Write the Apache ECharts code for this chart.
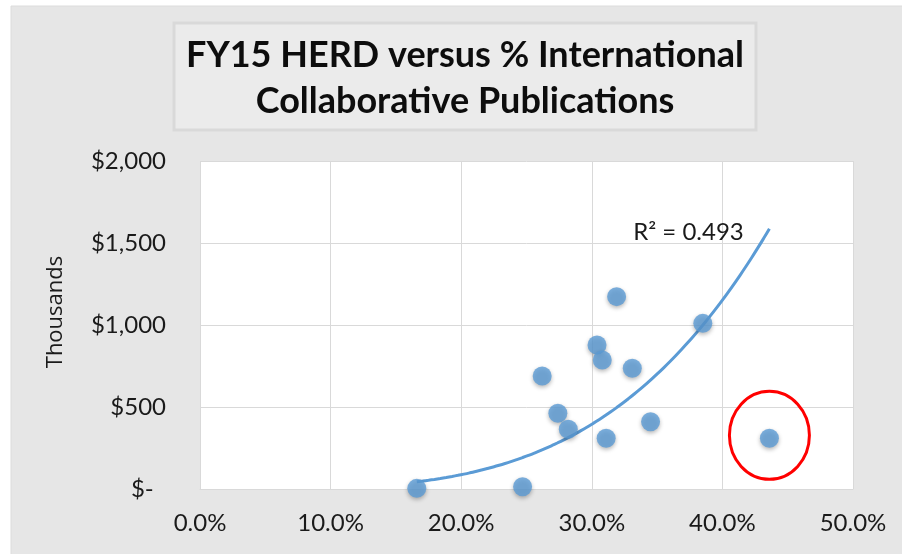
<!DOCTYPE html>
<html>
<head>
<meta charset="utf-8">
<script src="https://cdn.jsdelivr.net/npm/echarts@6/dist/echarts.min.js"></script>
<style>
html,body{margin:0;padding:0;background:#fff;}
#c{width:902px;height:554px;}
</style>
</head>
<body>
<div id="c"></div>
<script>
// International collaborative publication share (fraction) vs FY15 HERD (thousands of $)
var intlShare = [0.319, 0.385, 0.304, 0.308, 0.331, 0.262, 0.274, 0.282, 0.345, 0.311, 0.436, 0.166, 0.247];
var herdThousands = [1173, 1010, 878, 787, 736, 689, 462, 364, 410, 309, 309, 4, 14];
var xTicks = ['0.0%', '10.0%', '20.0%', '30.0%', '40.0%', '50.0%'];
var yTicks = ['$-', '$500', '$1,000', '$1,500', '$2,000'];
// Power trendline y = a * x^b (as displayed by the spreadsheet)
var trendCoef = 395 / Math.pow(0.30, 3.72);
var trendExp = 3.72;
var rSquared = '0.493';
var outlierIndex = 10;
var titleLines = ['FY15 HERD versus % International', 'Collaborative Publications'];

var FONT = 'Lato';
var points = intlShare.map(function (x, i) { return [x, herdThousands[i]]; });
var xmin = Math.min.apply(null, intlShare), xmax = Math.max.apply(null, intlShare);
var trend = [];
for (var k = 0; k <= 60; k++) {
  var xv = xmin + (xmax - xmin) * k / 60;
  trend.push([xv, trendCoef * Math.pow(xv, trendExp)]);
}

var chart = echarts.init(document.getElementById('c'), null, {renderer: 'canvas'});
var option = {
  backgroundColor: '#ffffff',
  animation: false,
  grid: {left: 200, right: 49, top: 161, bottom: 65, show: true, backgroundColor: '#ffffff', borderWidth: 0},
  xAxis: {
    type: 'value', min: 0, max: 0.5, interval: 0.1,
    axisLine: {show: true, lineStyle: {color: '#d9d9d9'}},
    axisTick: {show: false},
    splitLine: {show: true, lineStyle: {color: '#d9d9d9', width: 1}},
    axisLabel: {
      margin: 22, fontFamily: FONT, fontSize: 24, color: '#1a1a1a',
      formatter: function (v) { return xTicks[Math.round(v * 10)]; }
    }
  },
  yAxis: {
    type: 'value', min: 0, max: 2000, interval: 500,
    name: 'Thousands', nameLocation: 'middle', nameGap: 133, nameRotate: 90,
    nameTextStyle: {fontFamily: 'Open Sans', fontSize: 22, color: '#1a1a1a', padding: [0, 0, 0, 26]},
    axisLine: {show: false},
    axisTick: {show: false},
    splitLine: {show: true, lineStyle: {color: '#d9d9d9', width: 1}},
    axisLabel: {
      margin: 34, fontFamily: FONT, fontSize: 24, color: '#1a1a1a',
      formatter: function (v) { var s = yTicks[Math.round(v / 500)]; return v === 0 ? s + '  ' : s; }
    }
  },
  series: [
    {
      type: 'line', data: trend, showSymbol: false, smooth: true, z: 2,
      lineStyle: {color: '#5B9BD5', width: 3},
      markPoint: {
        symbol: 'circle', symbolSize: 0,
        data: [{coord: [0.374, 1567], value: rSquared}],
        label: {show: true, position: 'inside', formatter: 'R² = ' + rSquared,
          fontFamily: FONT, fontSize: 24, color: '#1a1a1a'}
      }
    },
    {
      type: 'scatter', data: points, symbolSize: 19, z: 3,
      itemStyle: {color: '#5B9BD5', shadowBlur: 4, shadowColor: 'rgba(0,0,0,0.35)', shadowOffsetY: 2}
    }
  ]
};
chart.setOption(option);

var op = chart.convertToPixel({gridIndex: 0}, points[outlierIndex]);
chart.setOption({
  graphic: [
    {type: 'rect', silent: true, z: -10, shape: {x: 11, y: 6, width: 902, height: 560},
      style: {fill: '#e6e6e6', stroke: '#dcdcdc', lineWidth: 1}},
    {type: 'rect', silent: true, z: -5, shape: {x: 174, y: 23, width: 582, height: 107},
      style: {fill: '#ebebeb', stroke: '#d9d9d9', lineWidth: 3}},
    {type: 'text', silent: true, z: 5, x: 465, y: 55,
      style: {text: titleLines[0], textAlign: 'center', textVerticalAlign: 'middle',
        fontFamily: FONT, fontWeight: 'bold', fontSize: 36, fill: '#0d0d0d'}},
    {type: 'text', silent: true, z: 5, x: 465, y: 101,
      style: {text: titleLines[1], textAlign: 'center', textVerticalAlign: 'middle',
        fontFamily: FONT, fontWeight: 'bold', fontSize: 36, fill: '#0d0d0d'}},
    {type: 'ellipse', silent: true, z: 10, shape: {cx: op[0], cy: op[1] - 3, rx: 40, ry: 44},
      style: {fill: 'none', stroke: '#ff0000', lineWidth: 3}}
  ]
});
</script>
</body>
</html>
